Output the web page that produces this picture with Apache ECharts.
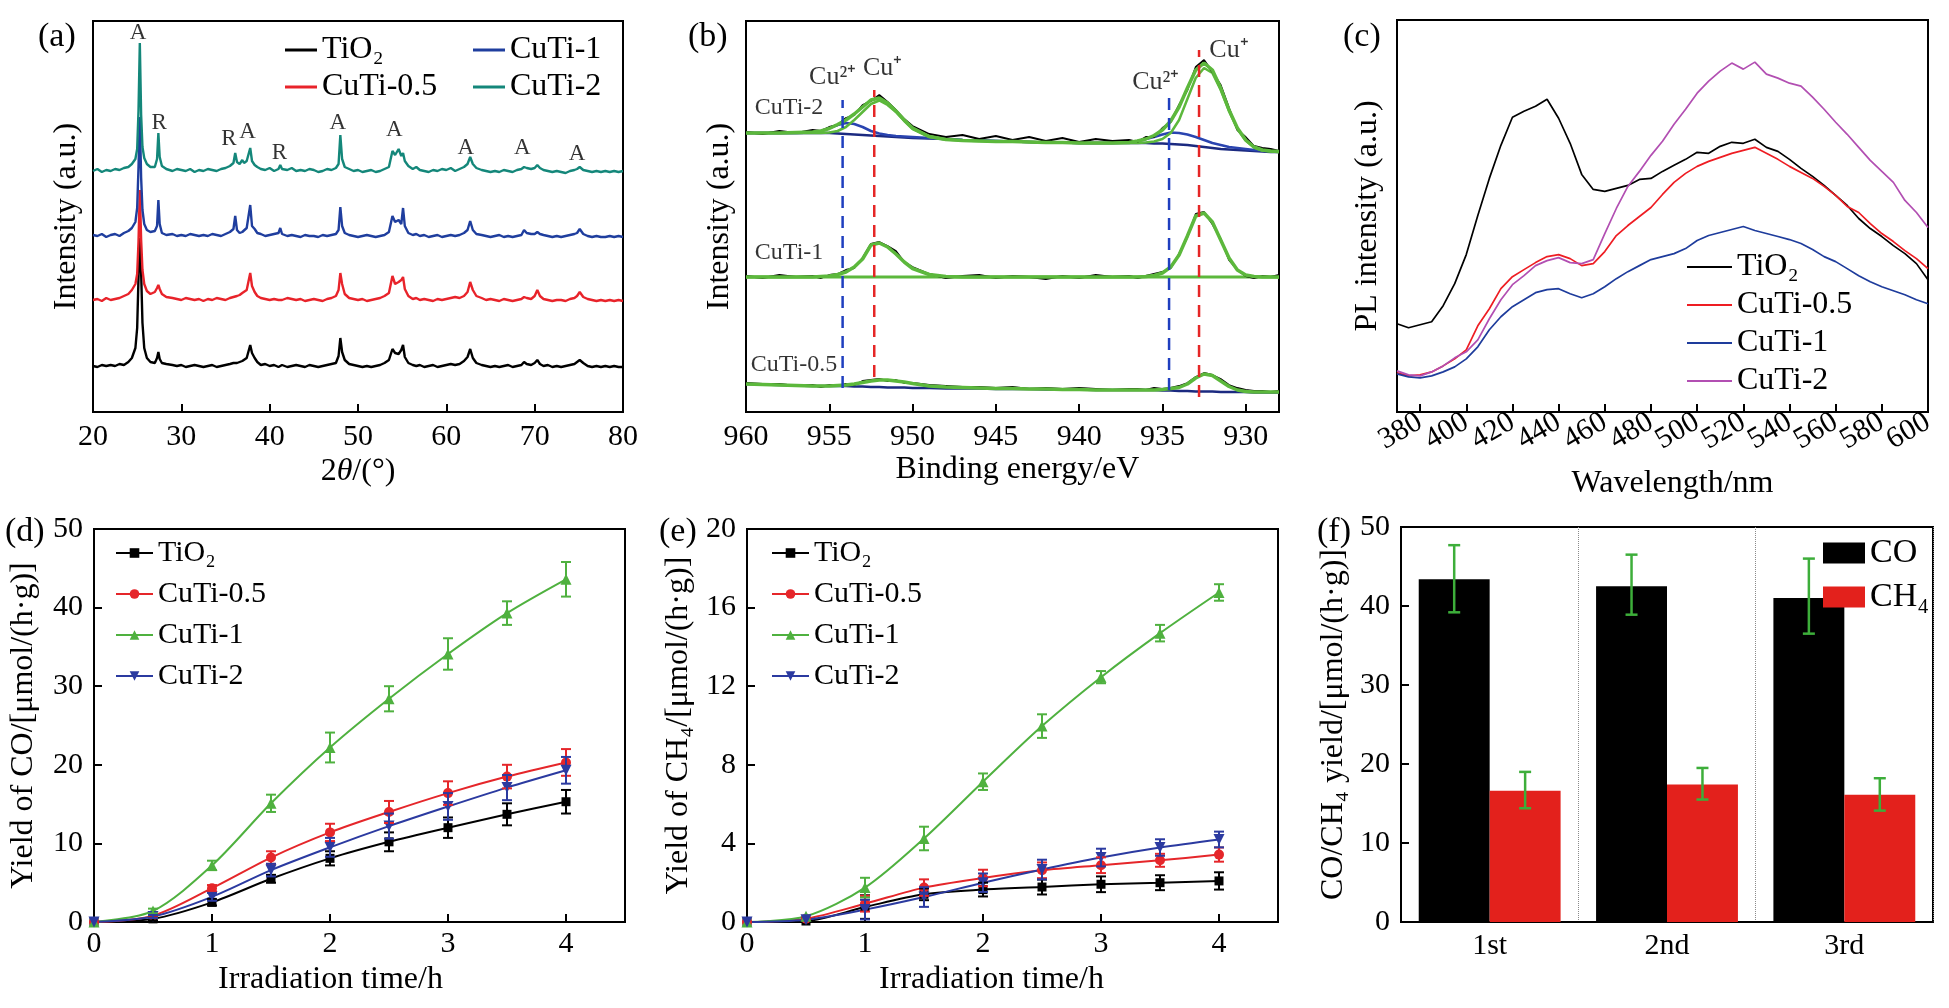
<!DOCTYPE html>
<html><head><meta charset="utf-8">
<script src="https://cdn.jsdelivr.net/npm/echarts/dist/echarts.min.js"></script>
<style>html,body{margin:0;padding:0;background:#fff}#c{width:1949px;height:1008px}</style>
</head><body><div id="c"></div><script>
// ---------------- DATA ----------------
// (a) XRD
const xrdTheta = [
20,20.5,21,21.5,22,22.5,23,23.5,24,24.4,
24.8,25.0,25.15,25.3,25.45,25.6,25.8,26.1,26.5,27.0,
27.25,27.4,27.55,27.8,28.3,29,29.5,30,30.5,31,
31.5,32,32.5,33,33.5,34,34.5,35,35.5,35.9,
36.1,36.3,36.6,36.9,37.1,37.4,37.8,38.0,38.3,38.6,
39,39.5,40,40.5,41,41.2,41.4,42,42.5,43,
43.5,44,44.5,45,45.5,46,46.5,47,47.5,47.8,
48.0,48.2,48.5,49,49.5,50,50.5,51,51.5,52,
52.5,53,53.5,53.9,54.2,54.6,54.9,55.1,55.3,55.7,
56.2,56.6,57,57.5,58,58.5,59,59.5,60,60.5,
61,61.5,62,62.4,62.7,63.0,63.4,64,64.5,65,
65.5,66,66.5,67,67.5,68,68.5,68.8,69.1,69.6,
70.0,70.3,70.6,71,71.5,72,72.5,73,73.5,74,
74.5,74.8,75.1,75.5,76,76.5,77,77.5,78,78.5,
79,79.5,80];
const xrdTiO2 = [
2,1,3,2,3,2,4,3,6,10,
20,40,90,130,95,45,20,10,6,5,
10,16,9,5,4,3,2,3,1,2,
3,2,1,2,3,1,2,3,4,5,
6,5,6,7,8,10,23,15,10,6,
3,4,2,3,1,2,3,1,2,3,
2,1,3,2,1,2,3,4,5,12,
30,16,8,4,3,2,1,2,1,2,
3,5,8,19,15,14,18,23,11,5,
3,2,3,1,2,3,1,2,3,4,
3,4,7,11,19,10,5,3,2,1,
2,1,2,3,1,2,3,6,4,3,
5,8,4,2,3,1,2,1,2,3,
4,6,8,5,2,1,2,1,2,1,
2,1,1];
const xrdCuTi05 = [
2,3,1,4,2,3,4,6,8,12,
18,28,60,112,62,32,18,11,8,10,
14,17,13,8,5,4,3,2,4,3,
2,3,1,3,2,4,3,2,4,5,
5,6,7,9,8,12,29,16,10,6,
4,3,2,3,2,3,2,4,3,2,
3,1,2,3,2,1,3,4,6,12,
29,18,8,4,3,2,3,1,2,3,
4,6,9,26,18,20,22,25,13,6,
3,4,2,3,2,1,3,2,3,4,
5,4,6,10,20,12,6,4,2,3,
2,1,3,2,1,2,3,5,4,3,
6,12,6,3,2,1,2,2,1,3,
4,6,10,5,3,2,1,2,1,2,
1,2,1];
const xrdCuTi1 = [
3,2,4,1,3,4,2,5,7,10,
16,30,70,121,60,28,14,8,6,7,
12,38,14,5,3,4,2,3,2,4,
3,2,3,2,4,3,2,4,6,9,
22,8,5,6,7,10,33,12,9,5,
4,2,3,4,5,10,4,2,3,2,
1,3,2,2,1,3,2,3,4,8,
31,12,5,3,2,1,2,3,2,1,
2,3,6,22,16,18,14,30,12,5,
3,4,2,3,1,2,3,1,2,3,
2,3,5,8,17,8,4,3,2,1,
2,3,1,2,1,2,3,8,5,4,
4,6,4,3,2,1,2,1,2,3,
4,5,9,4,2,1,2,1,1,2,
1,2,1];
const xrdCuTi2 = [
2,4,1,3,2,4,3,5,6,9,
14,24,62,130,58,26,15,9,6,6,
14,40,16,7,4,2,4,3,2,4,
1,3,2,4,3,2,4,5,7,10,
20,11,9,13,10,12,25,12,8,6,
4,3,5,2,4,8,4,3,5,2,
3,2,4,3,1,2,4,3,5,9,
38,14,6,4,2,3,1,2,3,1,
2,4,6,22,18,24,17,20,12,7,
4,6,3,2,1,3,2,4,3,5,
2,4,6,9,16,9,5,3,2,1,
2,1,3,2,1,3,4,6,5,4,
5,8,5,3,2,1,2,1,0,2,
3,4,6,3,2,1,2,1,2,1,
2,1,2];
const xrdOffset = [44, 110, 174, 239]; // TiO2, CuTi-0.5, CuTi-1, CuTi-2 stacking offsets
const xrdPeakLabels = [[25.1,379,'A'],[27.5,289,'R'],[35.4,273,'R'],[37.5,280,'A'],[41.1,259,'R'],[47.7,289,'A'],[54.1,282,'A'],[62.2,264,'A'],[68.6,264,'A'],[74.8,258,'A']];

// (b) XPS Cu 2p
const xpsEnergy = [
960,959,958,957,956,955.5,955,954.5,954,953.5,
953,952.5,952,951.5,951,950.5,950,949,948,947,
946,945,944,943,942,941,940,939,938,937,
936.5,936,935.5,935,934.5,934,933.5,933,932.5,932,
931.5,931,930.5,930,929.5,929,928.5,928];
const xps2Raw = [
20,18,21,19,22,21,25,27,34,37,
47,51,57,50,42,33,26,18,15,17,
13,16,12,15,11,14,10,13,11,12,
10,15,15,24,30,47,62,85,92,80,
67,44,22,15,6,4,3,1];
const xps2Fit = [
19,19,19,19.5,20,21,23.5,27.5,32,38,
45,52,54,49,41,32,24,15.5,12.5,11.5,
11,10.5,10.5,10,9.5,9.5,9,9,9,9.5,
11,13,16.5,22,31,45,64,82,89,82,
64,42,24,12,5,2,1,0.5];
const xps2CuI = [
19,19,19,19,19,19,19.5,21,25,32,
40,48,51.5,47,40,31,23,15,12.5,11.5,
11,10.5,10.5,10,9.5,9.5,9,9,9,9,
9,9.5,10.5,13,19,32,53,74,84,79,
62,41,23,11.5,4.5,1.5,0.5,0];
const xps2CuII = [
19,19,19,19,19.5,21,24,27,29,28,
25,21,18.5,17,16,15.5,15,14,13,12,
11.5,11,10.5,10,9.5,9.5,9,9,9,9.5,
11,13,15,17.5,19.5,19,17.5,15,12,9,
7,5,4,3,2,1.5,1,0.5];
const xps2Bg = [
19,19,19,19,19,19,19,18.5,18,17.5,
17,16.5,16,15.5,15,14.5,14,13.5,13,12,
11.5,11,10.5,10,9.5,9.5,9,9,9,9,
9,9,8.5,8.5,8,7.5,7,6,5,4,
3,2.5,2,1.5,1,0.5,0,0];
const xps1Raw = [
6,4,7,5,6,4,7,8,12,14,
24,38,40,36,31,20,15,8,4,6,
7,4,6,5,3,6,4,7,5,6,
4,6,8,10,14,28,45,68,70,58,
43,22,12,6,4,6,5,7];
const xps1Fit = [
5,5,5,5,5,5.5,6,7.5,10,15,
23,37,39,35,28,20,13.5,7.5,5.5,5,
5,5,5,5,5,5,5,5,5,5,
5,5.5,6.5,9,15,27,46,66,69,60,
42,24,12,7,5.5,5,5,5];
const xps1Bg = [
5,5,5,5,5,5,5,5,5,5,
5,5,5,5,5,5,5,5,5,5,
5,5,5,5,5,5,5,5,5,5,
5,5,5,5,5,5,5,5,5,5,
5,5,5,5,5,5,5,5];
const xps05Raw = [
18,17,17,15,16,14,16,15,17,16,
20,21,22,20,21,18,18,16,15,14,
14,13,14,12,13,12,13,12,11,12,
12,11,13,12,13,15,18,24,28,26,
22,16,13,11,10,10,9,10];
const xps05Fit = [
17,16.5,16,15.5,15,15,15,15.5,16,17,
18.5,20,21,21,20,19,17.5,15,14,13.5,
13,12.5,12.5,12,12,11.5,11.5,11,11,11,
11,11,11,11.5,12.5,13.5,17,23,27,25.5,
20,14.5,11,9.5,9,9,9,9];
const xps05Bg = [
17,16.5,16,15.5,15,15,15,15,15,14.5,
14.5,14,14,13.5,13.5,13.5,13,13,12.5,12.5,
12.5,12,12,12,11.5,11.5,11.5,11,11,11,
11,11,11,10.5,10.5,10,10,9.5,9.5,9.5,
9,9,9,9,8.5,8.5,8.5,8.5];
const xpsOffset = [260, 130, 11]; // CuTi-2, CuTi-1, CuTi-0.5
const xpsRefLines = [[954.2,24,312,'blue'],[952.3,35,322,'red'],[934.6,22,317,'blue'],[932.8,15,362,'red']];
const xpsSampleLabels = [[959.5,304,'CuTi-2'],[959.5,159,'CuTi-1'],[959.75,47,'CuTi-0.5']];
const xpsStateLabels = [[954.8,335,'Cu²⁺'],[951.8,344,'Cu⁺'],[935.4,330,'Cu²⁺'],[931.0,362,'Cu⁺']];

// (c) PL
const plWl = [370,375,380,385,390,395,400,405,410,415,
420,425,430,435,440,445,450,455,460,465,
470,475,480,485,490,495,500,505,510,515,
520,525,530,535,540,545,550,555,560,565,
570,575,580,585,590,595,600];
const plTiO2 = [88,84,87,90,106,128,157,196,233,266,
294,300,305,312,293,268,237,222,220,223,
226,232,233,240,246,252,259,258,265,269,
268,272,264,260,252,243,235,226,216,206,
193,183,175,166,158,148,132];
const plCuTi05 = [39,36,37,40,46,53,62,86,103,123,
135,142,149,155,157,153,146,148,160,176,
186,195,204,217,229,238,245,250,254,258,
261,264,258,252,245,239,233,225,216,205,
199,188,178,170,161,153,143];
const plCuTi1 = [38,35,34,36,40,45,53,65,82,95,
105,112,119,122,123,118,114,118,125,133,
140,146,152,155,158,163,171,176,179,182,
185,181,178,175,172,168,162,155,150,143,
136,130,125,121,117,112,108];
const plCuTi2 = [41,37,36,40,46,54,60,72,93,112,
127,136,146,151,154,149,148,152,178,203,
225,240,256,270,287,302,318,330,340,348,
342,349,337,333,328,325,314,302,289,277,
264,251,240,229,211,199,184];
const plTicks = [380,400,420,440,460,480,500,520,540,560,580,600];
const plLabelsOdd = [380,420,460,500,540,580];
const plLabelsEven = [400,440,480,520,560,600];

// (d) CO yield, (e) CH4 yield
const tHours = [0,0.5,1,1.5,2,2.5,3,3.5,4];
const coTiO2 = [0,0.4,2.5,5.5,8.1,10.2,12.0,13.7,15.3];
const coTiO2Err = [0,0.2,0.4,0.5,0.9,1.2,1.3,1.4,1.5];
const coCuTi05 = [0,0.8,4.3,8.2,11.4,14.0,16.4,18.5,20.3];
const coCuTi05Err = [0,0.2,0.4,0.8,1.1,1.4,1.5,1.5,1.7];
const coCuTi1 = [0,1.4,7.2,15.1,22.2,28.4,34.1,39.3,43.6];
const coCuTi1Err = [0,0.3,0.6,1.1,1.9,1.6,2.0,1.5,2.2];
const coCuTi2 = [0,0.7,3.2,6.6,9.5,12.2,14.7,17.1,19.3];
const coCuTi2Err = [0,0.2,0.5,0.8,1.2,1.6,1.7,1.6,1.7];
const ch4TiO2 = [0,0.05,0.76,1.41,1.65,1.78,1.92,2.0,2.09];
const ch4TiO2Err = [0,0.05,0.6,0.3,0.35,0.38,0.4,0.38,0.44];
const ch4CuTi05 = [0,0.17,0.93,1.75,2.24,2.63,2.89,3.14,3.43];
const ch4CuTi05Err = [0,0.05,0.4,0.42,0.42,0.4,0.4,0.33,0.36];
const ch4CuTi1 = [0,0.29,1.75,4.25,7.14,9.97,12.46,14.7,16.77];
const ch4CuTi1Err = [0,0.05,0.5,0.6,0.42,0.6,0.31,0.42,0.42];
const ch4CuTi2 = [0,0.12,0.63,1.27,2.0,2.67,3.28,3.79,4.2];
const ch4CuTi2Err = [0,0.05,0.5,0.5,0.47,0.5,0.45,0.42,0.4];
const hourTicks = [0,1,2,3,4];

// (f) cycling
const runs = ['1st','2nd','3rd'];
const runCO = [43.4,42.5,41.0];
const runCOLo = [39.2,38.9,36.5];
const runCOHi = [47.7,46.5,46.0];
const runCH4 = [16.6,17.4,16.1];
const runCH4Lo = [14.4,15.5,14.1];
const runCH4Hi = [19.0,19.5,18.2];

// ---------------- CHART ----------------
const FONT = '"Liberation Serif","Times New Roman",serif';
const chart = echarts.init(document.getElementById('c'));
const zip = (xs, ys, off) => xs.map((x, i) => [x, ys[i] + (off || 0)]);
const T = (size, extra) => Object.assign({fontFamily: FONT, fontSize: size, color: '#000', fontWeight: 'normal'}, extra || {});
const AL = {show: true, onZero: false, lineStyle: {color: '#000', width: 2}};
const TK = {show: true, inside: true, length: 8, lineStyle: {color: '#000', width: 2}};

const grids = [
  {left: 93, top: 21, width: 530, height: 391},
  {left: 746, top: 21, width: 533, height: 391},
  {left: 1397, top: 20, width: 531, height: 392},
  {left: 94, top: 529, width: 531, height: 393},
  {left: 747, top: 529, width: 531, height: 393},
  {left: 1401, top: 527, width: 532, height: 395}
].map(g => Object.assign(g, {show: true, borderColor: '#000', borderWidth: 2, backgroundColor: 'transparent'}));

const xAxes = [
  {type: 'value', gridIndex: 0, min: 20, max: 80, interval: 10, axisLine: AL, axisTick: TK, splitLine: {show: false},
   axisLabel: T(30, {margin: 10}), name: '2{i|θ}/(°)', nameLocation: 'middle', nameGap: 44,
   nameTextStyle: T(32, {rich: {i: T(32, {fontStyle: 'italic'})}})},
  {type: 'value', gridIndex: 1, min: 928, max: 960, inverse: true, axisLine: AL,
   axisTick: Object.assign({}, TK, {customValues: [955,950,945,940,935,930]}), splitLine: {show: false},
   axisLabel: T(30, {margin: 10, customValues: [960,955,950,945,940,935,930], showMinLabel: true, showMaxLabel: true}),
   name: 'Binding energy/eV', nameLocation: 'middle', nameGap: 42, nameTextStyle: T(32, {padding: [0, 0, 0, 10]})},
  {type: 'value', gridIndex: 2, min: 370, max: 600, position: 'bottom', axisLine: AL,
   axisTick: Object.assign({}, TK, {customValues: plTicks}), splitLine: {show: false},
   axisLabel: T(30, {margin: 8, rotate: 30, customValues: plLabelsOdd, showMinLabel: true, showMaxLabel: true}),
   name: 'Wavelength/nm', nameLocation: 'middle', nameGap: 56, nameTextStyle: T(32, {padding: [0, 0, 0, 20]})},
  {type: 'value', gridIndex: 3, min: 0, max: 4.5, axisLine: AL,
   axisTick: Object.assign({}, TK, {customValues: hourTicks}), splitLine: {show: false},
   axisLabel: T(30, {margin: 7, customValues: hourTicks, showMinLabel: true, showMaxLabel: true}),
   name: 'Irradiation time/h', nameLocation: 'middle', nameGap: 42, nameTextStyle: T(32, {padding: [0, 58, 0, 0]})},
  {type: 'value', gridIndex: 4, min: 0, max: 4.5, axisLine: AL,
   axisTick: Object.assign({}, TK, {customValues: hourTicks}), splitLine: {show: false},
   axisLabel: T(30, {margin: 7, customValues: hourTicks, showMinLabel: true, showMaxLabel: true}),
   name: 'Irradiation time/h', nameLocation: 'middle', nameGap: 42, nameTextStyle: T(32, {padding: [0, 42, 0, 0]})},
  {type: 'category', gridIndex: 5, data: runs, axisLine: AL, axisTick: {show: false},
   axisLabel: T(30, {margin: 9}),
   splitLine: {show: true, lineStyle: {type: 'dotted', color: '#8a8a8a', width: 1}}},
  // second label layer for (c) so that alternating rotated labels are not culled
  {type: 'value', gridIndex: 2, min: 370, max: 600, position: 'bottom', offset: 0,
   axisLine: {show: false}, axisTick: {show: false}, splitLine: {show: false},
   axisLabel: T(30, {margin: 8, rotate: 30, customValues: plLabelsEven, showMinLabel: true, showMaxLabel: true})}
];

const yAxes = [
  {type: 'value', gridIndex: 0, min: 0, max: 391, axisLine: AL, axisTick: {show: false}, axisLabel: {show: false}, splitLine: {show: false},
   name: 'Intensity (a.u.)', nameLocation: 'middle', nameGap: 10, nameRotate: 90, nameTextStyle: T(32)},
  {type: 'value', gridIndex: 1, min: 0, max: 391, axisLine: AL, axisTick: {show: false}, axisLabel: {show: false}, splitLine: {show: false},
   name: 'Intensity (a.u.)', nameLocation: 'middle', nameGap: 10, nameRotate: 90, nameTextStyle: T(32)},
  {type: 'value', gridIndex: 2, min: 0, max: 391, axisLine: AL, axisTick: {show: false}, axisLabel: {show: false}, splitLine: {show: false},
   name: 'PL intensity (a.u.)', nameLocation: 'middle', nameGap: 13, nameRotate: 90, nameTextStyle: T(32)},
  {type: 'value', gridIndex: 3, min: 0, max: 50, interval: 10, axisLine: AL, axisTick: TK, splitLine: {show: false},
   axisLabel: T(30, {margin: 11}),
   name: 'Yield of CO/[μmol/(h·g)]', nameLocation: 'middle', nameGap: 54, nameRotate: 90, nameTextStyle: T(32)},
  {type: 'value', gridIndex: 4, min: 0, max: 20, interval: 4, axisLine: AL, axisTick: TK, splitLine: {show: false},
   axisLabel: T(30, {margin: 11}),
   name: 'Yield of CH₄/[μmol/(h·g)]', nameLocation: 'middle', nameGap: 52, nameRotate: 90, nameTextStyle: T(32)},
  {type: 'value', gridIndex: 5, min: 0, max: 50, interval: 10, axisLine: AL, axisTick: TK, splitLine: {show: false},
   axisLabel: T(30, {margin: 11}),
   name: 'CO/CH₄ yield/[μmol/(h·g)]', nameLocation: 'middle', nameGap: 51, nameRotate: 90, nameTextStyle: T(32)}
];

const series = [];
function line(gi, name, data, color, width, extra) {
  series.push(Object.assign({type: 'line', name: name, xAxisIndex: gi, yAxisIndex: gi, data: data,
    symbol: 'none', showSymbol: false, lineStyle: {color: color, width: width}, itemStyle: {color: color},
    silent: true, animation: false}, extra || {}));
}
function labels(gi, data, size, pos) {
  series.push({type: 'scatter', xAxisIndex: gi, yAxisIndex: gi, symbolSize: 1, itemStyle: {color: 'rgba(0,0,0,0)'},
    silent: true, animation: false,
    data: data.map(d => ({value: [d[0], d[1]], name: d[2]})),
    label: Object.assign({show: true, position: pos, distance: 0, formatter: p => p.name}, T(size))});
}

// (a)
const xrdColors = ['#000000', '#e8232a', '#1f3e9e', '#14877a'];
const xrdNames = ['a:TiO₂', 'a:CuTi-0.5', 'a:CuTi-1', 'a:CuTi-2'];
[xrdTiO2, xrdCuTi05, xrdCuTi1, xrdCuTi2].forEach((ys, k) => line(0, xrdNames[k], zip(xrdTheta, ys, xrdOffset[k]), xrdColors[k], 2.4));
labels(0, xrdPeakLabels, 23, 'inside');

// (b)
const GREEN = '#5cb83c';
[[xps2Bg, '#1b2a80', 2.5], [xps2CuII, '#2a44b0', 2.5], [xps2CuI, GREEN, 2.5], [xps2Raw, '#000', 1.8], [xps2Fit, GREEN, 3.5]]
  .forEach(s => line(1, null, zip(xpsEnergy, s[0], xpsOffset[0]), s[1], s[2]));
[[xps1Bg, GREEN, 3], [xps1Raw, '#000', 1.8], [xps1Fit, GREEN, 3.5]]
  .forEach(s => line(1, null, zip(xpsEnergy, s[0], xpsOffset[1]), s[1], s[2]));
[[xps05Bg, '#1b2a80', 2.5], [xps05Raw, '#000', 1.8], [xps05Fit, GREEN, 3.5]]
  .forEach(s => line(1, null, zip(xpsEnergy, s[0], xpsOffset[2]), s[1], s[2]));
xpsRefLines.forEach(r => line(1, null, [[r[0], r[1]], [r[0], r[2]]], r[3] === 'blue' ? '#1f3fbf' : '#e52626', 2.5,
  {lineStyle: {color: r[3] === 'blue' ? '#1f3fbf' : '#e52626', width: 2.5, type: [12, 8]}}));
labels(1, xpsSampleLabels, 24, 'right');
labels(1, xpsStateLabels, 26, 'inside');

// (c)
const plColors = ['#000000', '#ee1d23', '#1e3c9c', '#b24fb2'];
const plNames = ['c:TiO₂', 'c:CuTi-0.5', 'c:CuTi-1', 'c:CuTi-2'];
[plTiO2, plCuTi05, plCuTi1, plCuTi2].forEach((ys, k) => line(2, plNames[k], zip(plWl, ys), plColors[k], 1.7));

// (d) & (e)
const yColors = ['#000000', '#e5262a', '#4fb13f', '#2b3aa0'];
const ySymbols = [['rect', 9, 0], ['circle', 10, 0], ['triangle', 11, 0], ['triangle', 11, 180]];
function errSeries(gi, ys, es, color) {
  series.push({type: 'custom', xAxisIndex: gi, yAxisIndex: gi, silent: true, animation: false, z: 4,
    data: tHours.map((t, i) => [t, ys[i], es[i]]).filter(d => d[2] > 0.06), encode: {x: 0, y: 1},
    renderItem: (p, api) => {
      const x = api.value(0), y = api.value(1), e = api.value(2);
      const a = api.coord([x, y + e]), b = api.coord([x, y - e]);
      const w = 5, st = {stroke: color, lineWidth: 2};
      return {type: 'group', children: [
        {type: 'line', shape: {x1: a[0], y1: a[1], x2: b[0], y2: b[1]}, style: st},
        {type: 'line', shape: {x1: a[0] - w, y1: a[1], x2: a[0] + w, y2: a[1]}, style: st},
        {type: 'line', shape: {x1: b[0] - w, y1: b[1], x2: b[0] + w, y2: b[1]}, style: st}]};
    }});
}
function yieldPanel(gi, prefix, sets) {
  const names = ['TiO₂', 'CuTi-0.5', 'CuTi-1', 'CuTi-2'];
  sets.forEach((s, k) => {
    line(gi, prefix + names[k], zip(tHours, s[0]), yColors[k], 2, {
      symbol: ySymbols[k][0], symbolSize: ySymbols[k][1], symbolRotate: ySymbols[k][2], showSymbol: true, smooth: 0.3});
  });
  sets.forEach((s, k) => errSeries(gi, s[0], s[1], yColors[k]));
}
yieldPanel(3, 'd:', [[coTiO2, coTiO2Err], [coCuTi05, coCuTi05Err], [coCuTi1, coCuTi1Err], [coCuTi2, coCuTi2Err]]);
yieldPanel(4, 'e:', [[ch4TiO2, ch4TiO2Err], [ch4CuTi05, ch4CuTi05Err], [ch4CuTi1, ch4CuTi1Err], [ch4CuTi2, ch4CuTi2Err]]);

// (f)
series.push({type: 'bar', name: 'f:CO', xAxisIndex: 5, yAxisIndex: 5, data: runCO, barGap: '0%', barCategoryGap: '20%',
  itemStyle: {color: '#000000'}, silent: true, animation: false});
series.push({type: 'bar', name: 'f:CH₄', xAxisIndex: 5, yAxisIndex: 5, data: runCH4, barGap: '0%', barCategoryGap: '20%',
  itemStyle: {color: '#e3211c'}, silent: true, animation: false});
function barErr(lo, hi, frac) {
  series.push({type: 'custom', xAxisIndex: 5, yAxisIndex: 5, silent: true, animation: false, z: 5,
    data: runs.map((r, i) => [i, lo[i], hi[i]]), encode: {x: 0, y: [1, 2]},
    renderItem: (p, api) => {
      const band = api.size([1, 0])[0];
      const a = api.coord([api.value(0), api.value(2)]), b = api.coord([api.value(0), api.value(1)]);
      const x = a[0] + frac * band, w = 6, st = {stroke: '#3dae3a', lineWidth: 2.5};
      return {type: 'group', children: [
        {type: 'line', shape: {x1: x, y1: a[1], x2: x, y2: b[1]}, style: st},
        {type: 'line', shape: {x1: x - w, y1: a[1], x2: x + w, y2: a[1]}, style: st},
        {type: 'line', shape: {x1: x - w, y1: b[1], x2: x + w, y2: b[1]}, style: st}]};
    }});
}
barErr(runCOLo, runCOHi, -0.2);
barErr(runCH4Lo, runCH4Hi, 0.2);

const fmt = n => n.slice(2);
const legendBase = {orient: 'vertical', selectedMode: false, formatter: fmt, padding: 0};
const legends = [
  Object.assign({}, legendBase, {data: ['a:TiO₂', 'a:CuTi-0.5'], left: 285, top: 34, icon: 'rect', itemWidth: 32, itemHeight: 3, itemGap: 5, textStyle: T(32, {lineHeight: 32})}),
  Object.assign({}, legendBase, {data: ['a:CuTi-1', 'a:CuTi-2'], left: 473, top: 34, icon: 'rect', itemWidth: 32, itemHeight: 3, itemGap: 5, textStyle: T(32, {lineHeight: 32})}),
  Object.assign({}, legendBase, {data: plNames, left: 1687, top: 251, icon: 'rect', itemWidth: 45, itemHeight: 2, itemGap: 6, textStyle: T(32, {lineHeight: 32})}),
  Object.assign({}, legendBase, {data: ['d:TiO₂', 'd:CuTi-0.5', 'd:CuTi-1', 'd:CuTi-2'], left: 115, top: 538, itemWidth: 37, itemHeight: 12, itemGap: 11, textStyle: T(30, {lineHeight: 30})}),
  Object.assign({}, legendBase, {data: ['e:TiO₂', 'e:CuTi-0.5', 'e:CuTi-1', 'e:CuTi-2'], left: 771, top: 538, itemWidth: 37, itemHeight: 12, itemGap: 11, textStyle: T(30, {lineHeight: 30})}),
  Object.assign({}, legendBase, {data: ['f:CO', 'f:CH₄'], left: 1823, top: 536, icon: 'rect', itemWidth: 42, itemHeight: 21, itemGap: 10, textStyle: T(34, {lineHeight: 21})})
];

const panelLetter = (t, l, tp) => ({text: t, left: l, top: tp, padding: 0, textStyle: T(34)});
chart.setOption({
  animation: false,
  backgroundColor: '#ffffff',
  title: [panelLetter('(a)', 38, 20), panelLetter('(b)', 688, 20), panelLetter('(c)', 1343, 20),
          panelLetter('(d)', 5, 515), panelLetter('(e)', 659, 515), panelLetter('(f)', 1317, 515)],
  grid: grids, xAxis: xAxes, yAxis: yAxes, legend: legends, series: series
});
</script></body></html>
